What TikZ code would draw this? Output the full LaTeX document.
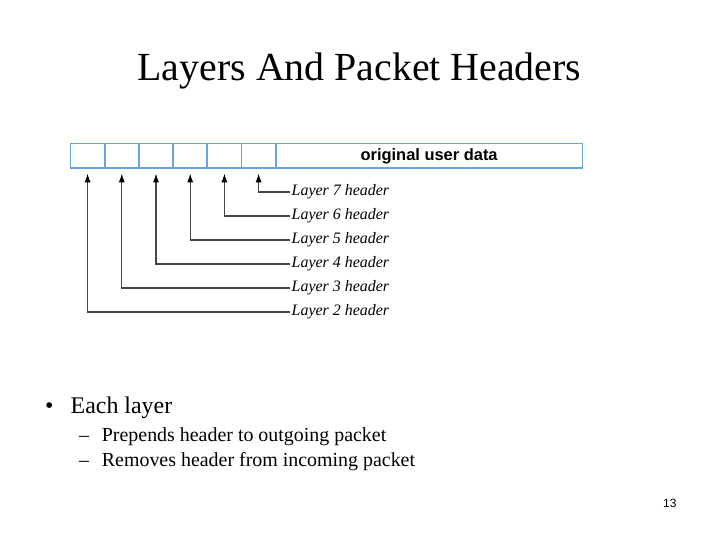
\documentclass[tikz,border=0pt]{standalone}
\usepackage{fontspec}
\setmainfont{Liberation Serif}
\newfontfamily\arialfont{Liberation Sans}
\usetikzlibrary{positioning,arrows.meta}

\definecolor{boxblue}{RGB}{104,164,224}
\definecolor{linegray}{RGB}{70,70,70}

\begin{document}
\begin{tikzpicture}[x=1bp, y=-1bp,
        cell/.style = {draw=boxblue,
            line width=1.8bp,
            minimum width=34.2bp,
            minimum height=24.8bp,
            inner sep=0pt, outer sep=0pt},
        hdr/.style = {anchor=west, inner sep=1.5bp,
            font=\fontsize{16}{19}\selectfont\itshape},
        link/.style = {draw=linegray, line width=1.3bp,
            -{Latex[length=9bp,width=6bp,color=black]},
            shorten >=5bp}]

    \useasboundingbox (0,0) rectangle (720,540);

    % Title
    \node[anchor=base, inner sep=0pt, font=\fontsize{40}{48}\selectfont]
        (title) at (359.5,80.7) {Layers And Packet Headers};

    % Header cells
    \node[cell, anchor=north west] (c1) at (70.5,143.5) {};
    \node[cell, right=0pt of c1] (c2) {};
    \node[cell, right=0pt of c2] (c3) {};
    \node[cell, right=0pt of c3] (c4) {};
    \node[cell, right=0pt of c4] (c5) {};
    \node[cell, right=0pt of c5] (c6) {};

    % User data
    \node[cell, minimum width=306.8bp, right=0pt of c6,
        font=\arialfont\bfseries\fontsize{16.5}{19}\selectfont]
        (data) {original user data};

    % Header labels
    \node[hdr] (h7) at (290,192) {Layer 7 header};
    \node[hdr] (h6) at (290,216) {Layer 6 header};
    \node[hdr] (h5) at (290,240) {Layer 5 header};
    \node[hdr] (h4) at (290,264) {Layer 4 header};
    \node[hdr] (h3) at (290,288) {Layer 3 header};
    \node[hdr] (h2) at (290,312) {Layer 2 header};

    % Arrows to the cells
    \draw[link] (h7.west) -| (c6.south);
    \draw[link] (h6.west) -| (c5.south);
    \draw[link] (h5.west) -| (c4.south);
    \draw[link] (h4.west) -| (c3.south);
    \draw[link] (h3.west) -| (c2.south);
    \draw[link] (h2.west) -| (c1.south);

    % Bullet text
    \node[anchor=base west, inner sep=0pt, font=\fontsize{24}{29}\selectfont]
        (dot) at (45,413) {•};
    \node[anchor=base west, inner sep=0pt, font=\fontsize{24}{29}\selectfont]
        (each) at (70.5,413) {Each layer};
    \node[anchor=base west, inner sep=0pt, font=\fontsize{20}{24}\selectfont]
        (dashA) at (79,441) {–};
    \node[anchor=base west, inner sep=0pt, font=\fontsize{20}{24}\selectfont]
        (prep) at (101.7,441) {Prepends header to outgoing packet};
    \node[anchor=base west, inner sep=0pt, font=\fontsize{20}{24}\selectfont]
        (dashB) at (79,466) {–};
    \node[anchor=base west, inner sep=0pt, font=\fontsize{20}{24}\selectfont]
        (remv) at (101.7,466) {Removes header from incoming packet};

    % Page number
    \node[anchor=base east, inner sep=0pt, font=\arialfont\fontsize{12}{14}\selectfont]
        (page) at (676.7,507) {13};

\end{tikzpicture}
\end{document}
